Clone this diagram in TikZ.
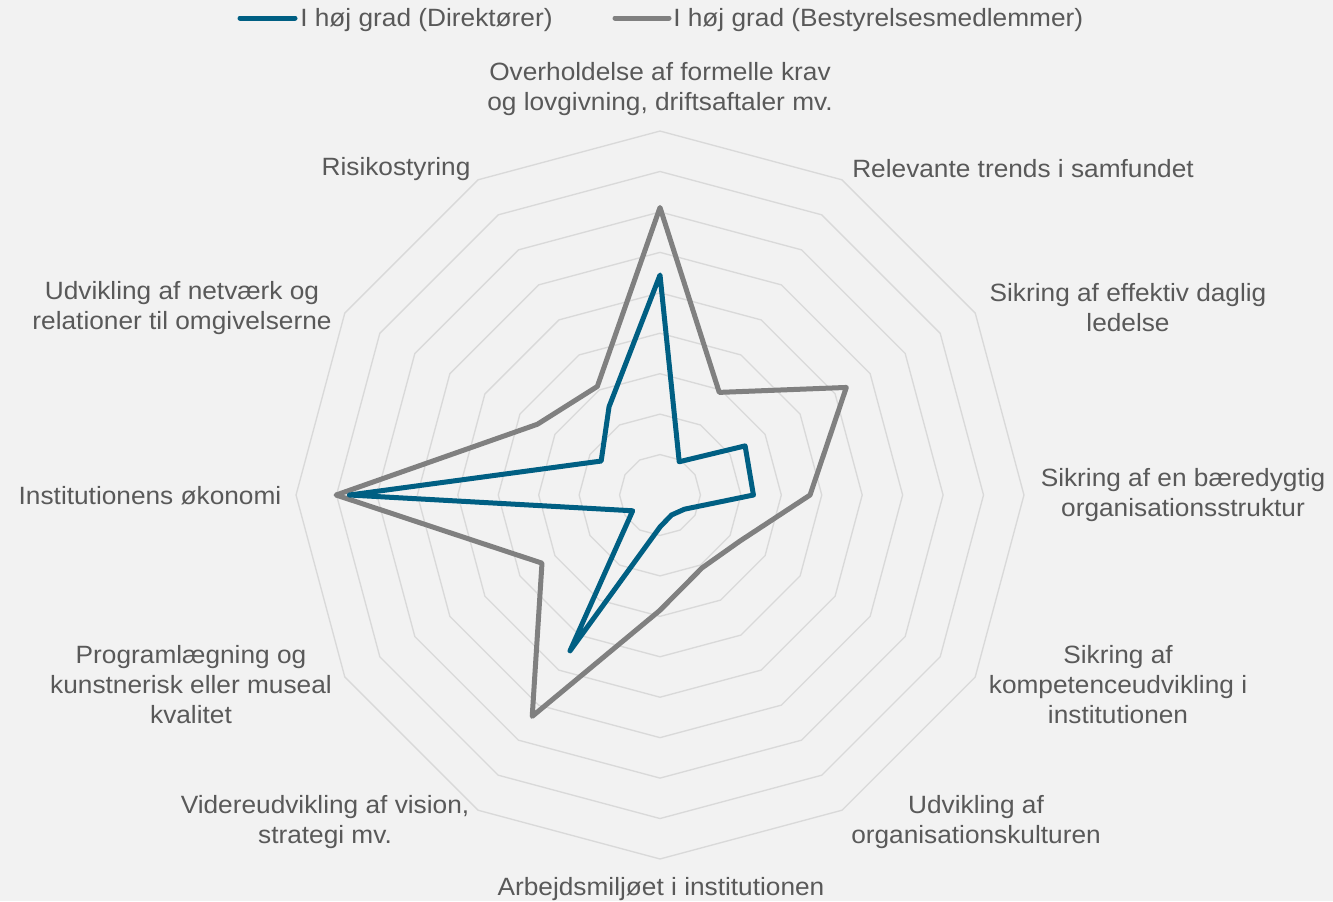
\documentclass[tikz,border=0pt]{standalone}
\usepackage{fontspec}
\setmainfont{Liberation Sans}[FakeStretch=1.05]
\definecolor{bgcol}{HTML}{F2F2F2}
\definecolor{gridcol}{HTML}{D9D9D9}
\definecolor{dircol}{RGB}{0,95,131}
\definecolor{bestcol}{HTML}{808080}
\definecolor{txtcol}{HTML}{595959}
\begin{document}
\begin{tikzpicture}[x=0.75pt,y=-0.75pt,
  gridline/.style={draw=gridcol,line width=1pt},
  dirline/.style={draw=dircol,line width=3.75pt,line join=round,line cap=round},
  bestline/.style={draw=bestcol,line width=3.75pt,line join=round,line cap=round},
  lbl/.style={text=txtcol,align=center,inner sep=0pt,font=\fontsize{18.75pt}{22.5pt}\selectfont}]
\fill[bgcol] (0,0) rectangle (1333,901);
\useasboundingbox (0,0) rectangle (1333,901);
\def\cx{660}\def\cy{495}\def\u{40.44}
% grid rings
\foreach \k in {1,...,9}{
  \draw[gridline] (\cx,{\cy-\k*\u})
    \foreach \a in {30,60,...,330}{ -- ({\cx+\k*\u*sin(\a)},{\cy-\k*\u*cos(\a)}) } -- cycle;
}
% data
\foreach \v [count=\i from 0] in {7.11,2.93,5.32,3.71,2.28,2.08,2.85,6.32,3.37,8.01,3.50,3.10}{
  \coordinate (g\i) at ({\cx+\v*\u*sin(\i*30)},{\cy-\v*\u*cos(\i*30)});
}
\foreach \v [count=\i from 0] in {5.44,0.95,2.43,2.31,0.70,0.57,0.79,4.45,0.78,7.68,1.68,2.52}{
  \coordinate (b\i) at ({\cx+\v*\u*sin(\i*30)},{\cy-\v*\u*cos(\i*30)});
}
\draw[bestline] (g0)--(g1)--(g2)--(g3)--(g4)--(g5)--(g6)--(g7)--(g8)--(g9)--(g10)--(g11)--cycle;
\draw[dirline] (b0)--(b1)--(b2)--(b3)--(b4)--(b5)--(b6)--(b7)--(b8)--(b9)--(b10)--(b11)--cycle;
% category labels
\node[lbl] (l0) at (660,89) {Overholdelse af formelle krav\\og lovgivning, driftsaftaler mv.};
\node[lbl] (l1) at (1023,169) {Relevante trends i samfundet};
\node[lbl] (l2) at (1128,308) {Sikring af effektiv daglig\\ledelse};
\node[lbl] (l3) at (1183,495) {Sikring af en bæredygtig\\organisationsstruktur};
\node[lbl] (l4) at (1118,685) {Sikring af\\kompetenceudvikling i\\institutionen};
\node[lbl] (l5) at (976,822) {Udvikling af\\organisationskulturen};
\node[lbl] (l6) at (661,889) {Arbejdsmiljøet i institutionen};
\node[lbl] (l7) at (325,822) {Videreudvikling af vision,\\strategi mv.};
\node[lbl] (l8) at (191,685) {Programlægning og\\kunstnerisk eller museal\\kvalitet};
\node[lbl] (l9) at (150,496) {Institutionens økonomi};
\node[lbl] (l10) at (182,308) {Udvikling af netværk og\\relationer til omgivelserne};
\node[lbl] (l11) at (396,169) {Risikostyring};
% legend
\coordinate (d1) at (240,18); \coordinate (d2) at (295,18);
\draw[dirline] (d1) -- (d2);
\node[lbl,anchor=west] (ld) at (300,20) {I høj grad (Direktører)};
\coordinate (e1) at (615,18); \coordinate (e2) at (669,18);
\draw[bestline] (e1) -- (e2);
\node[lbl,anchor=west] (le) at (673,20) {I høj grad (Bestyrelsesmedlemmer)};
\end{tikzpicture}
\end{document}
